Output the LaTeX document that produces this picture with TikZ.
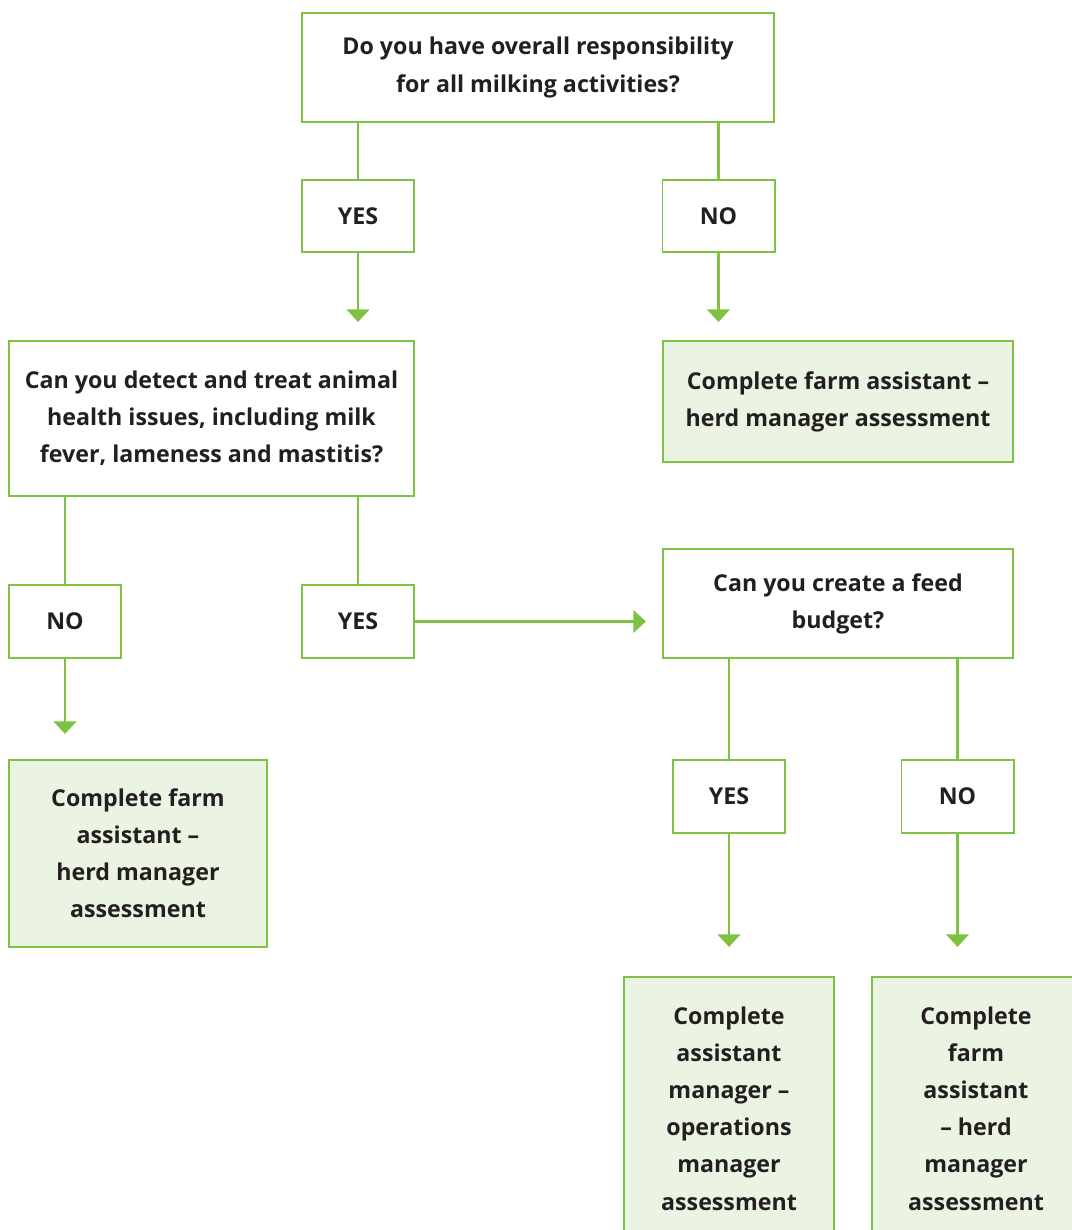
\documentclass[tikz,border=0pt]{standalone}
\usepackage{fontspec}
\setmainfont{Open Sans}
\usetikzlibrary{arrows.meta}

\definecolor{leaf}{RGB}{125,194,66}
\definecolor{leafpale}{RGB}{235,244,227}
\definecolor{ink}{RGB}{35,31,32}

\begin{document}
\begin{tikzpicture}[
    x=0.025cm, y=-0.025cm,
    qbox/.style={rectangle, draw=leaf, line width=1.4pt, align=center, inner sep=0pt, text=ink, font=\fontsize{16.5}{26.4}\selectfont\bfseries},
    ans/.style={qbox, minimum width=2.8cm, minimum height=1.82cm},
    endbox/.style={qbox, fill=leafpale},
    link/.style={draw=leaf, line width=2pt},
    arrow/.style={link, -{Triangle[width=16pt, length=9pt]}}
]
    \useasboundingbox (0,0) rectangle (1072,1230);
    \clip (0,0) rectangle (1072,1230);

    \node [qbox, minimum width=11.8cm, minimum height=2.725cm] (q1) at (538,67.5) {Do you have overall responsibility\\for all milking activities?};
    \node [ans] (yesA) at (358,216) {YES};
    \node [ans] (noA) at (718.5,216) {NO};

    \node [qbox, minimum width=10.125cm, minimum height=3.875cm] (q2) at (211.5,418.5) {Can you detect and treat animal\\health issues, including milk\\fever, lameness and mastitis?};
    \node [endbox, minimum width=8.75cm, minimum height=3.025cm] (endA) at (838,401.5) {Complete farm assistant --\\herd manager assessment};

    \node [ans] (noB) at (65,621.5) {NO};
    \node [ans] (yesB) at (358,621.5) {YES};
    \node [qbox, minimum width=8.75cm, minimum height=2.725cm] (q3) at (838,603.5) {Can you create a feed\\budget?};

    \node [endbox, minimum width=6.45cm, minimum height=4.675cm] (endB) at (138,853.5) {Complete farm\\assistant --\\herd manager\\assessment};
    \node [ans] (yesC) at (729,796.5) {YES};
    \node [ans] (noC) at (957.5,796.5) {NO};

    \node [endbox, minimum width=5.25cm, minimum height=6.575cm] (endC) at (729,1108.5) {Complete\\assistant\\manager --\\operations\\manager\\assessment};
    \node [endbox, minimum width=5.2cm, minimum height=6.575cm] (endD) at (976,1108.5) {Complete\\farm\\assistant\\-- herd\\manager\\assessment};

    % first question
    \draw [link] (q1.south -| yesA) -- (yesA);
    \draw [link] (q1.south -| noA) -- (noA);
    \draw [arrow, shorten >=0.45cm] (yesA) -- (yesA |- q2.north);
    \draw [arrow, shorten >=0.45cm] (noA) -- (noA |- endA.north);

    % second question
    \draw [link] (q2.south -| noB) -- (noB);
    \draw [link] (q2.south -| yesB) -- (yesB);
    \draw [arrow, shorten >=0.625cm] (noB) -- (noB |- endB.north);
    \draw [arrow, shorten >=0.4cm] (yesB.east) -- (yesB.east -| q3.west);

    % third question
    \draw [link] (q3.south -| yesC) -- (yesC);
    \draw [link] (q3.south -| noC) -- (noC);
    \draw [arrow, shorten >=0.725cm] (yesC) -- (yesC |- endC.north);
    \draw [arrow, shorten >=0.725cm] (noC) -- (noC |- endD.north);
\end{tikzpicture}
\end{document}
